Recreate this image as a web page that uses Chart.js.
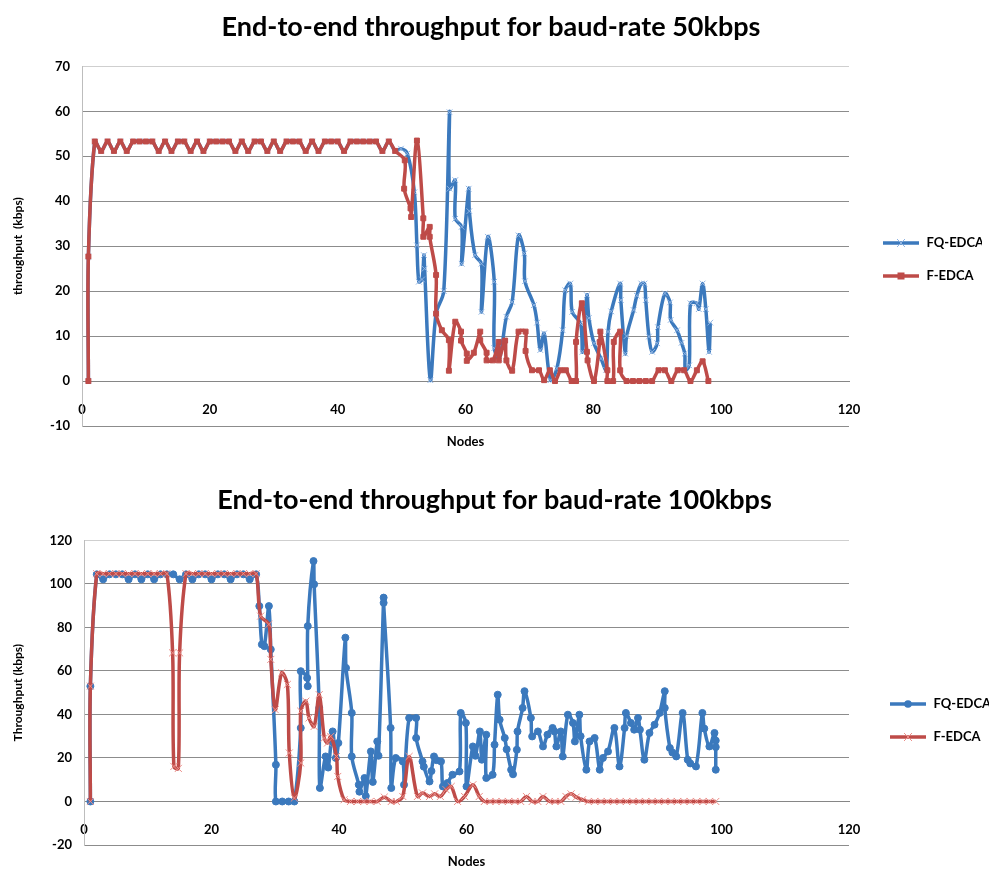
<!DOCTYPE html>
<html>
<head>
<meta charset="utf-8"/>
<style>
  html,body{margin:0;padding:0;background:#fff;}
  .box{position:absolute;left:0;width:1002px;}
  #top{top:0;height:465px;}
  #bot{top:470px;height:402px;}
</style>
</head>
<body>
<div class="box" id="top"><canvas id="c1"></canvas></div>
<div class="box" id="bot"><canvas id="c2"></canvas></div>
<script src="https://cdn.jsdelivr.net/npm/chart.js@4.4.0/dist/chart.umd.min.js"></script>
<script>
// ---- 50 kbps ----
const startNodes = [1, 1];
const start50    = [0, 27.7];
const plateauNodes50 = [2,3,4,5,6,7,8,9,10,11,12,13,14,15,16,17,18,19,20,21,22,23,24,25,26,27,28,29,30,31,32,33,34,35,36,37,38,39,40,41,42,43,44,45,46,47,48,49];
const plateauKbps50  = [53.3,51.2,53.3,51.2,53.3,51.2,53.3,53.3,53.3,53.3,51.2,53.3,51.2,53.3,53.3,51.2,53.3,51.2,53.3,53.3,53.3,53.3,51.2,53.3,51.2,53.3,53.3,51.2,53.3,51.2,53.3,53.3,53.3,51.2,53.3,51.2,53.3,53.3,53.3,51.2,53.3,53.3,53.3,53.3,53.3,51.2,53.3,51.2];
const fq50Nodes = [49.9,50.9,52.0,52.4,52.7,53.2,53.5,53.6,54.5,55.4,56.6,57.5,57.5,58.4,58.4,59.4,59.4,60.5,60.6,61.5,62.5,62.5,63.5,64.5,64.5,65.3,66.4,67.3,68.3,69.2,69.3,70.7,71.2,71.7,72.3,73.3,74.3,75.2,75.6,76.4,76.7,78.0,78.3,79.0,79.3,80.1,81.2,82.0,82.3,82.8,84.2,84.3,85.0,85.2,86.3,86.8,87.5,88.0,88.2,88.7,89.2,90.0,90.1,91.2,92.0,92.1,93.1,93.8,94.3,94.4,95.0,95.2,96.2,96.5,97.1,97.6,98.1,98.3];
const fq50Kbps  = [51.7,50.6,42.0,30.2,22.1,22.6,28.0,25.0,0.2,15.0,20.0,59.8,42.8,44.7,36.1,34.3,26.1,42.8,37.8,28.0,26.1,15.4,32.1,22.1,7.3,5.0,14.3,17.6,32.4,28.4,22.2,16.9,13.0,6.9,10.6,0.2,2.8,11.3,20.2,21.7,15.4,12.8,6.5,19.1,14.0,8.4,5.0,2.5,11.0,15.5,21.7,18.0,6.1,10.0,15.8,19.0,21.7,21.7,18.0,9.9,6.5,8.4,12.0,19.5,17.5,13.6,11.3,8.5,6.1,2.4,3.5,17.3,17.3,16.0,21.7,16.0,6.5,13.0];
const f50Nodes  = [50.5,50.4,51.4,51.5,52.4,53.4,53.4,54.4,54.4,55.4,55.4,56.3,57.4,57.4,58.4,59.3,59.3,60.2,60.2,61.3,62.3,62.3,63.3,63.3,64.3,65.2,65.2,66.2,66.4,67.3,68.3,69.4,69.4,70.4,71.5,72.3,73.2,74.0,74.9,75.7,76.6,77.3,77.3,78.2,79.0,79.1,80.1,81.0,81.1,82.2,82.2,83.1,83.2,84.2,84.2,85.2,86.2,87.2,88.2,89.2,90.2,91.2,92.2,93.2,94.2,95.2,96.2,97.1,98.0];
const f50Kbps   = [49.1,42.8,38.4,36.5,53.5,36.2,32.1,34.3,32.1,23.6,15.0,11.3,9.1,2.3,13.2,11.0,9.0,6.1,4.5,6.3,11.0,9.1,6.3,4.6,4.6,8.7,4.6,9.0,4.6,2.3,11.0,11.0,6.7,2.4,2.4,0.2,2.4,0,2.4,2.4,0,0,8.7,17.3,6.5,4.6,0,8.7,11.0,2.4,0,0,8.7,11.0,2.4,0,0,0,0,0,2.4,2.4,0,2.4,2.4,0,2.4,4.4,0];

// ---- 100 kbps ----
const start100 = [0, 53];
const plateauNodesFq100 = [2,3,4,5,6,7,8,9,10,11,12,13,14,15,16,17,18,19,20,21,22,23,24,25,26,27];
const plateauKbpsFq100  = [104.4,102.1,104.4,104.4,104.4,102.1,104.4,102.1,104.4,102.1,104.4,104.4,104.4,102.1,104.4,102.1,104.4,104.4,102.1,104.4,104.4,102.1,104.4,104.4,102.1,104.4];
const fq100Nodes = [27.5,27.9,28.3,29.0,29.3,30.1,30.1,31.1,32.1,33.0,34.0,34.0,35.0,35.1,35.1,36.0,36.1,36.9,37.0,37.9,38.3,39.0,39.5,39.9,41.0,41.1,42.0,42.0,43.1,43.2,44.0,44.2,45.0,45.3,46.0,46.2,47.0,47.0,48.1,48.2,48.9,50.0,50.2,51.0,52.1,52.1,53.1,53.3,54.2,54.5,54.9,55.3,56.0,56.3,57.0,57.8,58.9,59.1,59.9,60.0,61.0,61.4,62.1,62.4,63.1,63.1,64.1,64.4,64.9,65.2,66.0,66.3,67.0,67.3,67.9,68.0,68.8,69.1,70.1,70.3,71.2,72.0,72.7,73.5,73.8,74.1,74.8,75.1,75.9,76.7,77.0,77.7,77.9,78.8,79.3,80.1,80.9,81.4,82.2,83.2,84.0,84.8,85.0,85.8,86.3,86.9,87.2,87.9,88.7,89.5,90.3,91.1,91.1,91.9,92.3,92.9,93.9,94.7,95.1,96.0,97.0,97.3,98.1,98.9,99.1,99.1,99.1];
const fq100Kbps  = [89.8,72.2,71.4,89.8,69.9,16.9,0,0,0,0,33.8,59.9,56.8,53.0,80.6,110.5,99.8,43.0,6.2,20.7,15.6,32.2,20.0,26.9,75.3,61.4,40.7,20.7,7.7,4.5,10.8,2.5,23.0,9.0,27.6,21.0,93.7,91.3,33.8,6.2,20.0,18.4,7.7,38.4,38.4,29.2,18.4,16.0,9.2,14.0,20.7,19.0,18.4,6.9,8.5,12.3,13.8,40.7,36.1,6.9,25.3,21.0,32.2,19.2,30.7,10.8,12.3,26.1,49.1,37.6,29.2,24.0,14.6,12.5,23.8,32.2,43.0,50.7,38.4,29.9,32.2,25.3,30.7,33.8,32.2,25.3,32.2,20.7,39.9,36.1,27.6,39.9,30.0,14.6,27.6,29.2,14.6,20.0,23.0,33.8,16.1,33.8,40.7,36.1,33.0,38.4,33.0,19.2,31.5,35.3,40.7,50.7,43.0,24.6,22.5,20.7,40.7,19.2,17.5,16.1,40.7,33.5,25.3,31.5,28.0,25.0,14.6];
const f100Nodes = [2,3,4,5,6,7,8,9,10,11,12,13,13.9,14.1,14.8,15.0,16,17,18,19,20,21,22,23,24,25,26,27,27.7,29.0,29.3,30.0,31.0,31.9,32.2,33.0,34.0,34.0,34.8,35.3,36.1,36.9,37.7,38.2,38.7,39.6,39.8,40.8,41.8,42.9,43.9,44.9,46.0,47.1,48.2,49.0,50.0,51.0,52.3,53.1,54.2,55.0,55.9,56.8,57.6,58.6,59.7,61.0,62.0,62.8,63.7,64.6,65.6,66.6,67.6,68.5,69.4,70.3,71.2,72.0,73.0,73.9,74.8,75.6,76.4,77.2,78.2,79.1,80.1,81.1,82.1,83.1,84.1,85.1,86.1,87.1,88.1,89.1,90.1,91.1,92.1,93.1,94.1,95.1,96.1,97.1,98.1,99.1];
const f100Kbps  = [104.7,104.7,104.7,104.7,104.7,104.7,104.7,104.7,104.7,104.7,104.7,104.7,68.3,16.1,15.2,68.3,104.7,104.7,104.7,104.7,104.7,104.7,104.7,104.7,104.7,104.7,104.7,104.7,85.2,81.4,65.3,42.2,59.1,53.8,22.3,1.6,17.7,41.5,46.1,38.4,34.5,49.1,29.2,26.9,29.9,20.7,11.5,0.8,0,0,0,0,0,2.0,0,0,2.3,20.7,2.3,3.9,2.3,3.5,2.3,5.4,6.9,0,2.3,7.7,2.3,0,0,0,0,0,0,0,2.3,0,0,2.3,0,0,0,2.3,3.5,2.0,0.8,0,0,0,0,0,0,0,0,0,0,0,0,0,0,0,0,0,0,0,0,0];

const xTicks = [0, 20, 40, 60, 80, 100, 120];

const BLUE = "#3b79bd", RED = "#be4b48";
const FONT = "Lato";

const pts = (xs, ys) => xs.map((x, i) => ({ x, y: ys[i] }));

// legend symbol: line with the series marker in the middle
function legendIcon(color, marker) {
  const c = document.createElement("canvas");
  c.width = 38; c.height = 12;
  const g = c.getContext("2d");
  g.strokeStyle = color; g.lineWidth = 3.5;
  g.beginPath(); g.moveTo(1, 6); g.lineTo(37, 6); g.stroke();
  marker(g);
  return c;
}
const mkCross = col => g => { g.strokeStyle = col; g.lineWidth = 1; g.beginPath();
  g.moveTo(15, 2); g.lineTo(23, 10); g.moveTo(23, 2); g.lineTo(15, 10); g.stroke(); };
const mkRect = col => g => { g.fillStyle = col; g.fillRect(15.5, 2.5, 7, 7); };
const mkDot  = col => g => { g.fillStyle = col; g.beginPath(); g.arc(19, 6, 3.8, 0, Math.PI * 2); g.fill(); };

function makeChart(id, o) {
  const icons = o.icons;
  return new Chart(document.getElementById(id), {
    type: "scatter",
    data: { datasets: o.datasets },
    options: {
      responsive: true, maintainAspectRatio: false, animation: false,
      layout: { padding: { left: 0, right: o.padRight, top: 0, bottom: o.padBottom } },
      plugins: {
        tooltip: { enabled: false },
        title: { display: true, text: o.title, color: "#000",
          font: { family: FONT, size: 27, weight: "bold" }, padding: o.titlePad },
        legend: {
          position: "right", reverse: true, maxWidth: 120,
          // empty legend title only pushes the two entries down to Excel's spot
          title: { display: true, text: "", padding: { top: o.legendShift, bottom: 0 }, font: { size: 10 } },
          labels: {
            usePointStyle: true, pointStyleWidth: 38, padding: 20, color: "#000",
            font: { family: FONT, size: 13, weight: "bold" },
            generateLabels: chart => Chart.defaults.plugins.legend.labels.generateLabels(chart)
              .map(l => Object.assign(l, { pointStyle: icons[l.datasetIndex] }))
          }
        }
      },
      scales: {
        x: {
          type: "linear", position: { y: 0 }, min: 0, max: 120,
          afterBuildTicks: s => { s.ticks = xTicks.map(v => ({ value: v })); },
          grid: { display: false, drawTicks: false },
          border: { display: true, color: "#868686", width: 1 },
          ticks: { color: "#000", padding: 21, font: { family: FONT, size: 13, weight: "bold" } },
          title: { display: true, text: "Nodes", color: "#000", padding: { top: -5, bottom: 0 },
            font: { family: FONT, size: 13, weight: "bold" } }
        },
        y: {
          type: "linear", position: "left", min: o.yMin, max: o.yMax,
          afterBuildTicks: s => { s.ticks = o.yTicks.map(v => ({ value: v })); },
          afterFit: s => { s.width = o.left; },
          grid: { drawTicks: false, color: c => c.tick && c.tick.value === o.yMax ? "#cfcfcf" : "#8c8c8c" },
          border: { display: true, color: "#bdbdbd" },
          ticks: { color: "#000", padding: 12, font: { family: FONT, size: 13, weight: "bold" } },
          title: { display: true, text: o.yTitle, color: "#000", padding: { top: 11, bottom: 0 },
            font: { family: FONT, size: 12, weight: "bold" } }
        },
        gap: {
          type: "linear", position: "right", display: true,
          grid: { display: false, drawTicks: false }, border: { display: false },
          ticks: { display: false }, afterFit: s => { s.width = o.gap; }
        }
      }
    }
  });
}

const yTicks50 = [-10, 0, 10, 20, 30, 40, 50, 60, 70];
const yTicks100 = [-20, 0, 20, 40, 60, 80, 100, 120];

makeChart("c1", {
  title: "End-to-end throughput for baud-rate 50kbps",
  titlePad: { top: 11, bottom: 23 },
  yTitle: "throughput  (kbps)", yMin: -10, yMax: 70, yTicks: yTicks50,
  left: 82, padRight: 20, gap: 13, padBottom: 39, legendShift: 81,
  icons: [legendIcon(RED, mkRect(RED)), legendIcon(BLUE, mkCross("#8fb4e3"))],
  datasets: [
    { label: "F-EDCA",
      data: pts([...startNodes, ...plateauNodes50, ...f50Nodes], [...start50, ...plateauKbps50, ...f50Kbps]),
      showLine: true, borderColor: RED, borderWidth: 3.5, tension: 0.33,
      pointStyle: "rect", pointRadius: 3.5, pointBackgroundColor: RED, pointBorderColor: RED, pointBorderWidth: 1 },
    { label: "FQ-EDCA",
      data: pts([...startNodes, ...plateauNodes50, ...fq50Nodes], [...start50, ...plateauKbps50, ...fq50Kbps]),
      showLine: true, borderColor: BLUE, borderWidth: 3.5, tension: 0.33,
      pointStyle: "crossRot", pointRadius: 4, pointBorderColor: "#8fb4e3", pointBackgroundColor: "#8fb4e3", pointBorderWidth: 1 }
  ]
});

makeChart("c2", {
  title: "End-to-end throughput for baud-rate 100kbps",
  titlePad: { top: 14, bottom: 24 },
  yTitle: "Throughput (kbps)", yMin: -20, yMax: 120, yTicks: yTicks100,
  left: 84, padRight: 13, gap: 20, padBottom: 27, legendShift: 114,
  icons: [legendIcon(RED, mkCross("#ec8f8a")), legendIcon(BLUE, mkDot(BLUE))],
  datasets: [
    { label: "F-EDCA",
      data: pts([...startNodes, ...f100Nodes], [...start100, ...f100Kbps]),
      showLine: true, borderColor: RED, borderWidth: 3.5, tension: 0.33,
      pointStyle: "crossRot", pointRadius: 5, pointBorderColor: "#ec8f8a", pointBackgroundColor: "#ec8f8a", pointBorderWidth: 1 },
    { label: "FQ-EDCA",
      data: pts([...startNodes, ...plateauNodesFq100, ...fq100Nodes], [...start100, ...plateauKbpsFq100, ...fq100Kbps]),
      showLine: true, borderColor: BLUE, borderWidth: 3.5, tension: 0.33,
      pointStyle: "circle", pointRadius: 3.5, pointBackgroundColor: BLUE, pointBorderColor: BLUE, pointBorderWidth: 1 }
  ]
});
</script>
</body>
</html>
